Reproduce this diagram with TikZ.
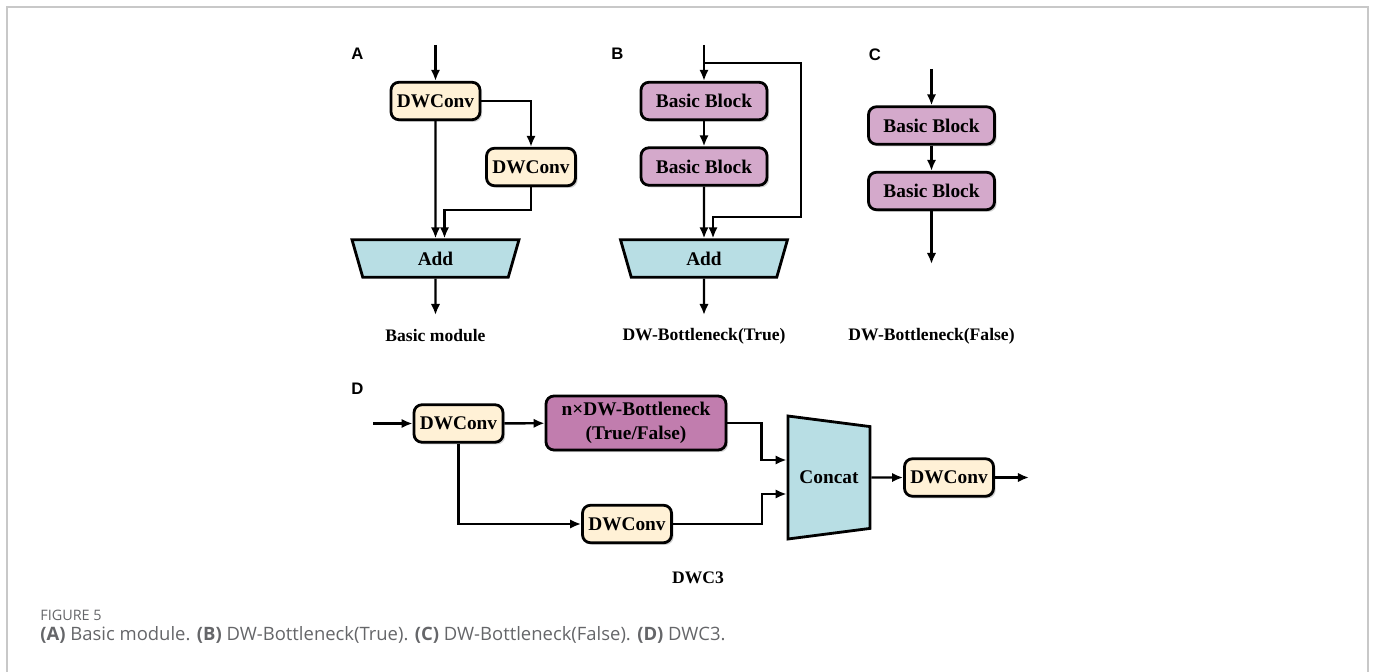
\documentclass[tikz,border=0pt]{standalone}
\usepackage{fontspec}
\setmainfont{Liberation Serif}
\newfontfamily\panelfont{Liberation Sans}
\newfontfamily\capfont{Open Sans}
\usetikzlibrary{arrows.meta, shapes.geometric, shadows, calc}

\definecolor{convfill}{HTML}{FFF1D6}
\definecolor{blockfill}{HTML}{D4A9CB}
\definecolor{neckfill}{HTML}{C17DAE}
\definecolor{addfill}{HTML}{B8DEE4}
\definecolor{framecol}{HTML}{C8C8C8}
\definecolor{capcol}{HTML}{656669}

\tikzset{
  seta/.style={-{Latex[length=6.3pt,width=5.4pt]}, line width=1.35pt},
  caixa/.style={draw, line width=1.6pt, rounded corners=4.5pt, inner sep=2pt,
    font=\fontsize{11}{13.5}\selectfont\bfseries,
    drop shadow={shadow xshift=1.2pt, shadow yshift=-1.2pt, opacity=0.35}},
  conv/.style={caixa, fill=convfill, minimum width=1.78cm, minimum height=0.75cm},
  bloco/.style={caixa, fill=blockfill, minimum width=2.52cm, minimum height=0.75cm},
  gargalo/.style={caixa, fill=neckfill, minimum width=3.6cm, minimum height=1.08cm, align=center},
  somar/.style={trapezium, draw, fill=addfill, line width=1.6pt,
    shape border rotate=180, trapezium left angle=67, trapezium right angle=67,
    trapezium stretches body, minimum width=3.34cm, minimum height=0.75cm,
    font=\fontsize{11}{13}\selectfont\bfseries},
  juntar/.style={trapezium, draw, fill=addfill, line width=1.6pt,
    shape border rotate=270, trapezium left angle=81.5, trapezium right angle=81.5,
    trapezium stretches body, minimum width=2.46cm, minimum height=1.64cm,
    font=\fontsize{11}{13}\selectfont\bfseries},
  painel/.style={font=\panelfont\fontsize{9.5}{11}\selectfont\bfseries},
  rotulo/.style={font=\fontsize{10}{12}\selectfont\bfseries}
}

\begin{document}
\begin{tikzpicture}[x=0.02cm, y=-0.02cm]
    \useasboundingbox (0,0) rectangle (1375,672);

    % Moldura
    \draw[framecol, line width=0.8pt] (7,672) -- (7,7) -- (1368,7) -- (1368,672);

    % A: Basic module
    \node[painel] (pA) at (357.5,54) {A};
    \coordinate (inA) at (435.5,45);
    \node[conv] (convA1) at (435.5,101) {DWConv};
    \node[conv] (convA2) at (531,167) {DWConv};
    \node[somar] (addA) at (435.5,258.5) {Add};
    \coordinate (outA) at (435.5,315);
    \node[rotulo] (labA) at (435.5,336) {Basic module};
    \draw[seta] (inA) -- (convA1);
    \draw[seta] (convA1.east) -| (convA2.north);
    \draw[seta] (convA1.south) -- (addA.north);
    \draw[seta] (convA2.south) -- ++(0,23) -| ($(addA.north)+(9,0)$);
    \draw[seta] (addA.south) -- (outA);

    % B: DW-Bottleneck(True)
    \node[painel] (pB) at (617.5,54) {B};
    \coordinate (inB) at (704,45);
    \coordinate (brB) at (704,63);
    \node[bloco] (blkB1) at (704,101) {Basic Block};
    \node[bloco] (blkB2) at (704,166.5) {Basic Block};
    \node[somar] (addB) at (704,258.5) {Add};
    \coordinate (outB) at (704,315);
    \node[rotulo] (labB) at (704,336) {DW-Bottleneck(True)};
    \draw[seta] (inB) -- (blkB1);
    \draw[seta] (blkB1) -- (blkB2);
    \draw[seta] (blkB2) -- (addB.north);
    \draw[seta] (brB) -- ++(97,0) -- ++(0,154) -| ($(addB.north)+(9,0)$);
    \draw[seta] (addB.south) -- (outB);

    % C: DW-Bottleneck(False)
    \node[painel] (pC) at (875,54.5) {C};
    \coordinate (inC) at (931.5,69);
    \node[bloco] (blkC1) at (931.5,125.5) {Basic Block};
    \node[bloco] (blkC2) at (931.5,191) {Basic Block};
    \coordinate (outC) at (931.5,264);
    \node[rotulo] (labC) at (931.5,336) {DW-Bottleneck(False)};
    \draw[seta] (inC) -- (blkC1);
    \draw[seta] (blkC1) -- (blkC2);
    \draw[seta] (blkC2) -- (outC);

    % D: DWC3
    \node[painel] (pD) at (357.5,389) {D};
    \coordinate (inD) at (373,423.5);
    \node[conv] (convD1) at (458.5,423.5) {DWConv};
    \node[gargalo] (neck) at (636,423) {n×DW-Bottleneck\\(True/False)};
    \node[conv] (convD2) at (627,524) {DWConv};
    \node[juntar] (concat) at (829,477.5) {Concat};
    \node[conv] (convD3) at (949,477.5) {DWConv};
    \coordinate (outD) at (1029,477.5);
    \node[rotulo] (labD) at (698,578) {DWC3};
    \draw[seta] (inD) -- (convD1);
    \draw[seta] (convD1) -- (neck);
    \draw[seta] (convD1.south) |- (convD2.west);
    \draw[seta] (neck.east) -- ++(34,0) |- ($(concat.west)+(0,-17.5)$);
    \draw[seta] (convD2.east) -- ++(89,0) |- ($(concat.west)+(0,16.5)$);
    \draw[seta] (concat.east) -- (convD3);
    \draw[seta] (convD3) -- (outD);

    % Legenda
    \node[font=\capfont\fontsize{8.2}{10}\selectfont, text=capcol, anchor=west, inner sep=0pt]
        (fig) at (40,615) {FIGURE 5};
    \node[font=\capfont\fontsize{10.5}{12}\selectfont, text=capcol, anchor=west, inner sep=0pt]
        (leg) at (40,635) {\textbf{(A)} Basic module. \textbf{(B)} DW-Bottleneck(True). \textbf{(C)} DW-Bottleneck(False). \textbf{(D)} DWC3.};
\end{tikzpicture}
\end{document}
